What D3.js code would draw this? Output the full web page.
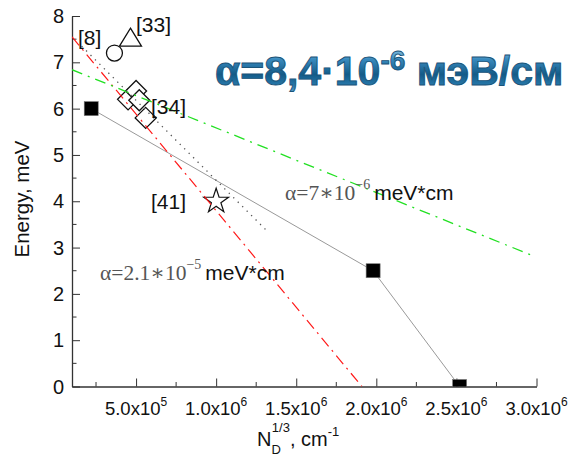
<!DOCTYPE html>
<meta charset="utf-8">
<style>
body { margin: 0; background: #fff; }
svg { display: block; }
.axis path, .axis line { stroke: #333; }
.tick-lbl { font-family: Arial, "Liberation Sans", sans-serif; font-size: 17px; fill: #111; }
.ref-lbl { font-family: Arial, "Liberation Sans", sans-serif; font-size: 21px; fill: #111; }
</style>
<svg width="571" height="464"></svg>
<script src="https://d3js.org/d3.v7.min.js"></script>
<script>

// tick values
var xMajor = [5e5, 1e6, 1.5e6, 2e6, 2.5e6, 3e6];
var xMinor = [2.5e5, 7.5e5, 1.25e6, 1.75e6, 2.25e6, 2.75e6];
var xMant = ["5.0", "1.0", "1.5", "2.0", "2.5", "3.0"];
var xExp = ["5", "6", "6", "6", "6", "6"];
var yMajor = [0, 1, 2, 3, 4, 5, 6, 7, 8];
var yMinor = [0.5, 1.5, 2.5, 3.5, 4.5, 5.5, 6.5, 7.5];

// measured binding energies (squares, joined by a line)
var sqN = [2.2e5, 1.98e6, 2.52e6];
var sqE = [6.0, 2.5, 0.0];

// literature points
var circN = [3.65e5], circE = [7.2];           // [8]
var triN = [4.65e5], triE = [7.5];             // [33]
var diaN = [4.5e5, 5.0e5, 5.2e5, 5.6e5];       // [34]
var diaE = [6.2, 6.38, 6.18, 5.8];
var starN = [1.0e6], starE = [4.0];            // [41]

// linear fits E = E0 - alpha*N^(1/3)
var redN = [1.0e5, 1.91e6], redE = [7.55, 0.0];
var greenN = [1.0e5, 2.98e6], greenE = [6.84, 2.82];
var dotN = [1.6e5, 1.32e6], dotE = [7.35, 3.35];

var svg = d3.select("svg");

var x = d3.scaleLinear().domain([1e5, 3e6]).range([72, 536.5]);
var y = d3.scaleLinear().domain([0, 8]).range([386.5, 16]);

var defs = svg.append("defs");
defs.append("clipPath").attr("id", "plot")
  .append("rect").attr("x", 72).attr("y", 10).attr("width", 470).attr("height", 376.5);

var gel = defs.append("linearGradient").attr("id", "gel")
  .attr("x1", 0).attr("y1", 0).attr("x2", 0).attr("y2", 1);
[["0%", "#a9d6ee"], ["30%", "#3789bd"], ["60%", "#135b89"], ["85%", "#2a7cae"], ["100%", "#6fb3da"]]
  .forEach(function(s) { gel.append("stop").attr("offset", s[0]).attr("stop-color", s[1]); });

// axes, ticks pointing inward
var xAxis = svg.append("g").attr("class", "axis")
  .attr("transform", "translate(0," + y(0) + ")")
  .call(d3.axisBottom(x).tickValues(xMajor).tickSizeInner(-8).tickSizeOuter(0).tickFormat(""));
xAxis.selectAll(".minor").data(xMinor).enter().append("line")
  .attr("x1", function(d) { return x(d); }).attr("x2", function(d) { return x(d); })
  .attr("y1", 0).attr("y2", -4.5).attr("stroke", "#333");

var yAxis = svg.append("g").attr("class", "axis")
  .attr("transform", "translate(" + x(1e5) + ",0)")
  .call(d3.axisLeft(y).tickValues(yMajor).tickSizeInner(-8).tickSizeOuter(0).tickFormat(""));
yAxis.selectAll(".minor").data(yMinor).enter().append("line")
  .attr("y1", function(d) { return y(d); }).attr("y2", function(d) { return y(d); })
  .attr("x1", 0).attr("x2", 4.5).attr("stroke", "#333");
svg.selectAll(".axis path").attr("stroke-width", 1.3);

svg.selectAll(".ylbl").data(yMajor).enter().append("text")
  .attr("class", "tick-lbl").attr("text-anchor", "end")
  .attr("x", 64).attr("y", function(d) { return y(d) + 7; })
  .style("font-size", "20px")
  .text(function(d) { return d; });

var xl = svg.selectAll(".xlbl").data(xMajor).enter().append("text")
  .attr("class", "tick-lbl").attr("text-anchor", "middle")
  .attr("x", function(d) { return x(d); }).attr("y", 415)
  .style("font-size", "18.5px");
xl.append("tspan").text(function(d, i) { return xMant[i] + "x10"; });
xl.append("tspan").attr("dy", -9).style("font-size", "12px").text(function(d, i) { return xExp[i]; });

// axis titles
svg.append("text").attr("class", "tick-lbl")
  .attr("transform", "translate(29,199) rotate(-90)")
  .attr("text-anchor", "middle").style("font-size", "20.5px")
  .text("Energy, meV");

var xt = svg.append("text").attr("class", "tick-lbl")
  .attr("x", 257).attr("y", 446).style("font-size", "20px");
xt.append("tspan").text("N");
xt.append("tspan").attr("dy", 8).style("font-size", "13px").text("D");
xt.append("tspan").attr("dx", -9).attr("dy", -22).style("font-size", "13px").text("1/3");
xt.append("tspan").attr("dy", 14).text(", cm");
xt.append("tspan").attr("dy", -10).style("font-size", "13px").text("-1");

var plot = svg.append("g").attr("clip-path", "url(#plot)");
var line = d3.line();

// measured series
plot.append("path")
  .attr("d", line(sqN.map(function(n, i) { return [x(n), y(sqE[i])]; })))
  .attr("fill", "none").attr("stroke", "#999").attr("stroke-width", 1);
plot.selectAll(".sq").data(sqN).enter().append("rect")
  .attr("x", function(d) { return x(d) - 7; })
  .attr("y", function(d, i) { return y(sqE[i]) - 7; })
  .attr("width", 14).attr("height", 14)
  .attr("fill", "#000").attr("stroke", "#777").attr("stroke-width", 0.6);

// literature markers
var mk = { fill: "#fff", stroke: "#111", sw: 1.3 };
plot.selectAll(".dia").data(diaN).enter().append("path")
  .attr("d", function(d, i) {
    var cx = x(d), cy = y(diaE[i]), r = 10.5;
    return "M" + cx + "," + (cy - r) + "L" + (cx + r) + "," + cy + "L" + cx + "," + (cy + r) + "L" + (cx - r) + "," + cy + "Z";
  })
  .attr("fill", mk.fill).attr("stroke", mk.stroke).attr("stroke-width", mk.sw);

plot.selectAll(".tri").data(triN).enter().append("path")
  .attr("d", function(d, i) {
    var cx = x(d), cy = y(triE[i]);
    return "M" + cx + "," + (cy - 11) + "L" + (cx + 11) + "," + (cy + 7) + "L" + (cx - 11) + "," + (cy + 7) + "Z";
  })
  .attr("fill", "none").attr("stroke", mk.stroke).attr("stroke-width", mk.sw);

plot.selectAll(".circ").data(circN).enter().append("circle")
  .attr("cx", function(d) { return x(d); })
  .attr("cy", function(d, i) { return y(circE[i]); })
  .attr("r", 8).attr("fill", mk.fill).attr("stroke", mk.stroke).attr("stroke-width", mk.sw);

plot.selectAll(".star").data(starN).enter().append("path")
  .attr("transform", function(d, i) { return "translate(" + x(d) + "," + y(starE[i]) + ")"; })
  .attr("d", d3.symbol().type(d3.symbolStar).size(190))
  .attr("fill", mk.fill).attr("stroke", mk.stroke).attr("stroke-width", 1.2);

// fitted lines
function fit(ns, es) { return line(ns.map(function(n, i) { return [x(n), y(es[i])]; })); }
plot.append("path").attr("d", fit(redN, redE))
  .attr("fill", "none").attr("stroke", "#ff1a1a").attr("stroke-width", 1.2)
  .attr("stroke-dasharray", "11,5,2,5");
plot.append("path").attr("d", fit(greenN, greenE))
  .attr("fill", "none").attr("stroke", "#22e022").attr("stroke-width", 1.3)
  .attr("stroke-dasharray", "11,6,2,6");
plot.append("path").attr("d", fit(dotN, dotE))
  .attr("fill", "none").attr("stroke", "#555").attr("stroke-width", 1.3)
  .attr("stroke-dasharray", "1.3,5");

// reference labels
svg.append("text").attr("class", "ref-lbl").attr("x", 78).attr("y", 45).text("[8]");
svg.append("text").attr("class", "ref-lbl").attr("x", 136).attr("y", 32).text("[33]");
svg.append("text").attr("class", "ref-lbl").attr("x", 151).attr("y", 114).text("[34]");
svg.append("text").attr("class", "ref-lbl").attr("x", 151).attr("y", 209).text("[41]");

// slope annotations
function slopeNote(px, py, mant, exp) {
  var t = svg.append("text").attr("x", px).attr("y", py);
  t.append("tspan").style("font-family", "'Liberation Serif', 'DejaVu Serif', serif")
    .style("font-size", "21.5px").attr("fill", "#555").text("\u03b1=" + mant + "\u221710");
  t.append("tspan").attr("dy", -11).style("font-family", "'Liberation Serif', serif")
    .style("font-size", "14px").attr("fill", "#555").text("\u2212" + exp);
  t.append("tspan").attr("dx", 4).attr("dy", 11).style("font-family", "Arial, 'Liberation Sans', sans-serif")
    .style("font-size", "21px").attr("fill", "#111").text("meV*cm");
}
slopeNote(285, 200, "7", "6");
slopeNote(100, 280, "2.1", "5");

// headline value
var h = svg.append("text").attr("x", 215).attr("y", 85)
  .style("font-family", "Arial, 'Liberation Sans', sans-serif").style("font-weight", "bold")
  .style("font-size", "41px").attr("fill", "url(#gel)")
  .attr("stroke", "#1b5479").attr("stroke-width", 0.9);
h.append("tspan").text("\u03b1=8,4\u00b710");
h.append("tspan").attr("dy", -15).style("font-size", "28px").text("-6");
h.append("tspan").attr("dy", 15).text(" \u043c\u044d\u0412/\u0441\u043c");

</script>
